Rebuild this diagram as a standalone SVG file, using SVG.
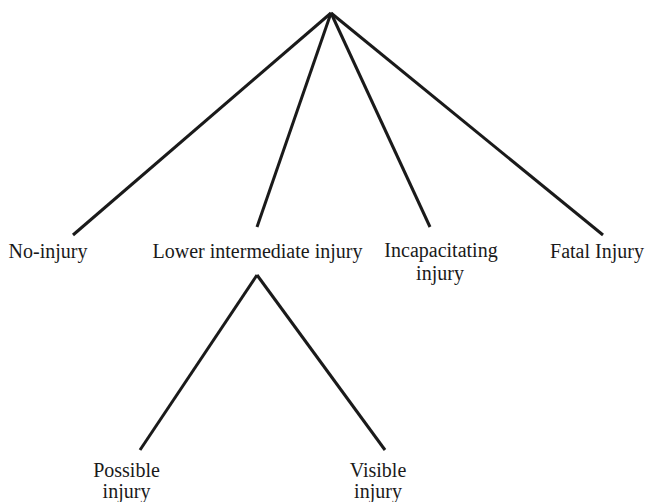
<svg xmlns="http://www.w3.org/2000/svg" width="646" height="502" viewBox="0 0 646 502">
<style>
.l{stroke:#1a1a1a;stroke-width:3;fill:none;stroke-linecap:butt}
.t{font-family:'Liberation Serif','Times New Roman',Times,serif;font-size:20px;fill:#1a1a1a;text-anchor:middle}
</style>
<rect width="646" height="502" fill="#fff"/>
<g id="connectors">
<line class="l" x1="331" y1="13" x2="73" y2="235"/>
<line class="l" x1="331" y1="13" x2="257" y2="227"/>
<line class="l" x1="331" y1="13" x2="430" y2="227"/>
<line class="l" x1="331" y1="13" x2="603" y2="235"/>
<line class="l" x1="257" y1="275" x2="140" y2="450"/>
<line class="l" x1="257" y1="275" x2="385" y2="450"/>
</g>
<g id="no-injury"><text class="t" x="48" y="258">No-injury</text></g>
<g id="lower"><text class="t" x="257.5" y="258">Lower intermediate injury</text></g>
<g id="incap"><text class="t" x="441" y="257">Incapacitating</text><text class="t" x="440" y="280">injury</text></g>
<g id="fatal"><text class="t" x="597" y="258">Fatal Injury</text></g>
<g id="possible"><text class="t" x="126.5" y="477">Possible</text><text class="t" x="126.5" y="498">injury</text></g>
<g id="visible"><text class="t" x="378" y="477">Visible</text><text class="t" x="378" y="498">injury</text></g>
</svg>
